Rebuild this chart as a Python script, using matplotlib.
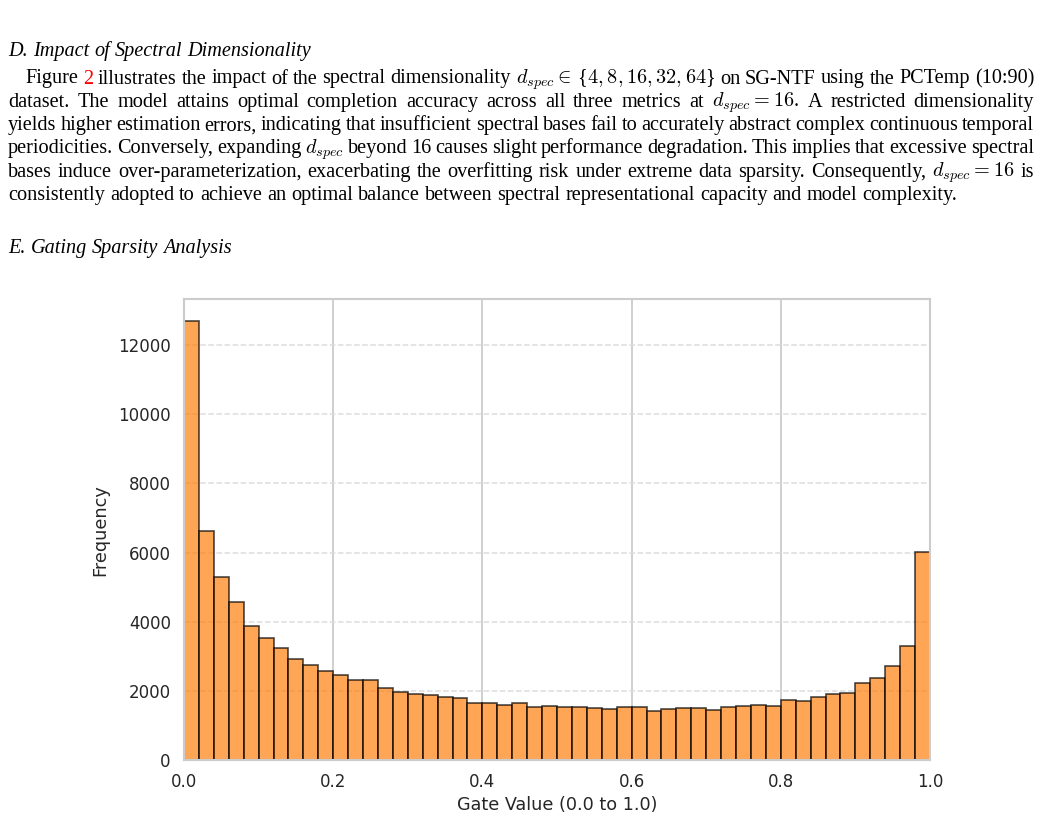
import matplotlib
matplotlib.use("Agg")
import matplotlib.pyplot as plt
import numpy as np

# ---------------- data ----------------
gate_counts = [12700, 6620, 5290, 4570, 3890, 3540, 3230, 2920, 2740, 2560,
               2450, 2300, 2320, 2080, 1970, 1920, 1870, 1830, 1790, 1660,
               1645, 1605, 1635, 1530, 1565, 1545, 1535, 1510, 1480, 1545,
               1530, 1430, 1470, 1500, 1500, 1450, 1545, 1565, 1595, 1575,
               1750, 1700, 1825, 1905, 1950, 2215, 2360, 2705, 3305, 6020]
x_range = (0.0, 1.0)
x_label = "Gate Value (0.0 to 1.0)"
y_label = "Frequency"

heading_d = "D. Impact of Spectral Dimensionality"
heading_e = "E. Gating Sparsity Analysis"
para_lines = [
    r"Figure [[2]] illustrates the impact of the spectral dimensionality $d_{spec} \in\,${$4,8,16,32,64$} on SG-NTF using the PCTemp (10:90)",
    r"dataset. The model attains optimal completion accuracy across all three metrics at $d_{spec} = 16$. A restricted dimensionality",
    r"yields higher estimation errors, indicating that insufficient spectral bases fail to accurately abstract complex continuous temporal",
    r"periodicities. Conversely, expanding $d_{spec}$ beyond 16 causes slight performance degradation. This implies that excessive spectral",
    r"bases induce over-parameterization, exacerbating the overfitting risk under extreme data sparsity. Consequently, $d_{spec} = 16$ is",
    r"consistently adopted to achieve an optimal balance between spectral representational capacity and model complexity.",
]

# ---------------- figure ----------------
plt.rcParams["mathtext.fontset"] = "cm"
W, H = 1041, 821
fig = plt.figure(figsize=(W / 100, H / 100), dpi=100)
fig.patch.set_facecolor("white")


def fx(px):
    return px / W


def fy(px):
    return 1 - px / H


def tokenize(s):
    toks, cur, inm = [], "", False
    for ch in s:
        if ch == "$":
            inm = not inm
            cur += ch
        elif ch == " " and not inm:
            if cur:
                toks.append(cur)
            cur = ""
        else:
            cur += ch
    if cur:
        toks.append(cur)
    return toks


TEXT_SIZE = 14.6
SERIF = ["Liberation Serif", "DejaVu Serif"]


def place_line(s, x0, x1, ybase, justify, size=TEXT_SIZE, style="normal"):
    texts = []
    for t in tokenize(s):
        color = "black"
        if t.startswith("[[") and t.endswith("]]"):
            t = t[2:-2]
            color = "#ff0000"
        texts.append(fig.text(0, fy(ybase), t, fontsize=size, family=SERIF,
                              style=style, color=color, va="baseline", ha="left"))
    r = fig.canvas.get_renderer()
    widths = [t.get_window_extent(r).width for t in texts]
    if justify and len(texts) > 1:
        gap = (x1 - x0 - sum(widths)) / (len(texts) - 1)
    else:
        gap = size * 0.25 * 100 / 72
    x = x0
    for t, w in zip(texts, widths):
        t.set_x(fx(x))
        x += w + gap


place_line(heading_d, 8, 1034, 56, False, style="italic")
base0, lead = 83.5, 23.3
for i, line in enumerate(para_lines):
    x0 = 25 if i == 0 else 8
    place_line(line, x0, 1034, base0 + lead * i, i < len(para_lines) - 1)
place_line(heading_e, 8, 1034, 253, False, style="italic")

# ---------------- histogram ----------------
ax = fig.add_axes([fx(184), fy(760), (930 - 184) / W, (760 - 299) / H])
edges = np.linspace(x_range[0], x_range[1], len(gate_counts) + 1)
centers = (edges[:-1] + edges[1:]) / 2
ax.hist(centers, bins=edges, weights=gate_counts, color="#ff7f0e", alpha=0.7,
        edgecolor="black", linewidth=1.2, zorder=2)
ax.set_xlim(*x_range)
ax.set_axisbelow(True)
ax.xaxis.grid(True, color="#cccccc", linewidth=1.3, linestyle="-")
ax.yaxis.grid(True, color="#dddddd", linewidth=1.1, linestyle="--")
for sp in ax.spines.values():
    sp.set_color("#cccccc")
    sp.set_linewidth(1.5)
ax.tick_params(axis="both", length=0, labelsize=12, colors="#262626")
ax.tick_params(axis="x", pad=9.5)
ax.tick_params(axis="y", pad=9.5)
ax.set_xticks([0.0, 0.2, 0.4, 0.6, 0.8, 1.0])
ax.set_yticks([0, 2000, 4000, 6000, 8000, 10000, 12000])

fig.text(fx(100), fy(530), y_label, rotation=90, ha="center", va="center",
         fontsize=12.7, color="#262626")
fig.text(fx(557), fy(805), x_label, ha="center", va="center",
         fontsize=12.7, color="#262626")

fig.savefig("out.png", dpi=100, facecolor="white")
